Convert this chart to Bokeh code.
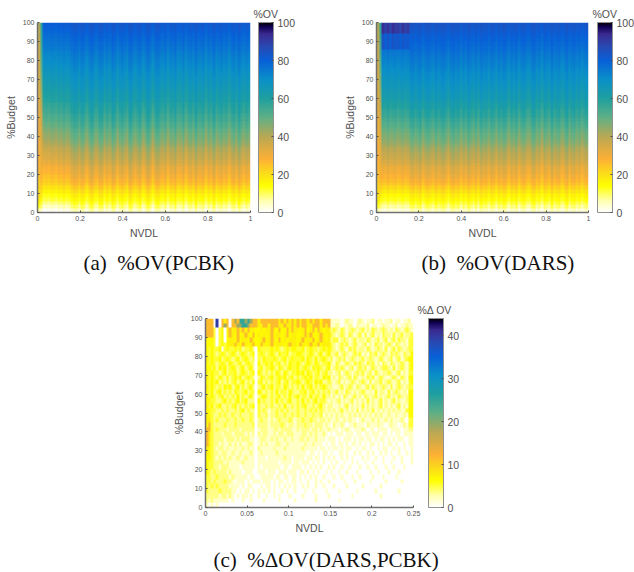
import numpy as np
from bokeh.embed import file_html
from bokeh.resources import INLINE
from bokeh.layouts import column, row
from bokeh.models import ColorBar, FixedTicker, LinearColorMapper, Range1d, Title
from bokeh.plotting import figure

# ---- values ----
cmap_pos = [0, 6, 14, 20, 28, 40, 50, 60, 70, 80, 88, 94, 98, 100]
cmap_hex = ["#ffffff", "#ffffb0", "#ffff00", "#fbdf18", "#fdb035", "#b8a855", "#5fb085",
            "#1fa0a0", "#0a90c8", "#0860d8", "#2a48b0", "#3a2a90", "#100050", "#000000"]

# %OV by budget, every 2 %Budget, bottom to top
profile_a = [4, 8, 11, 14, 16, 19, 22, 25, 27, 29, 31, 32, 34, 36, 38, 39, 41, 43, 45, 47, 48, 50, 52, 53, 55,
             56, 58, 59, 60, 62, 63, 64, 65, 66, 67, 68, 69, 70, 71, 72, 73, 74, 75, 76, 77, 78, 79, 80, 81, 82]
profile_b = [4, 8, 11, 14, 16, 19, 22, 25, 27, 29, 31, 32, 34, 36, 38, 39, 41, 43, 45, 47, 48, 50, 52, 53, 55,
             57, 58, 60, 61, 63, 64, 65, 66, 67, 68, 69, 70, 71, 72, 73, 74, 75, 76, 77, 78, 79, 80, 81, 82, 83]
# deviation of each NVDL column from the budget profile
shift_a = [-6, -5, -4, -3, -4, -2, -3, -4, -2, -3, -1, -3, -2, 1, 3, 2, -1, 3, 1, -2, 2, 4, 0, -1, 3, 3, -2, 1, -1, 4,
           2, -3, 1, 3, 0, -2, 4, 2, -1, 1, 3, -2, 0, 4, 1, -3, 2, 3, 0, -1, 2, -3, 1, 0, 3, -2, -1, 2, -3, 0,
           1, -2, 3, -1, 0, 2, -3, 1, -1, 3, -2, 0, 2, -1, 1, -3, 0, 2, -2, 3, 0, -2, 1, -1]
shift_b = [-4, -2, -1, -2, 0, -2, -1, 0, -2, -1, 0, -2, -1, 2, 3, 0, 2, 4, -1, 2, 3, 1, -1, 3, 0, 2, 4, 1, -2, 2,
           4, 1, 3, -1, 2, 0, 4, 1, -1, 2, -2, 3, 1, 2, -1, 3, 1, -2, 2, 0, 3, 1, -2, 2, 0, 3, -2, 1, 2, -1,
           -2, 1, 3, -1, 1, -3, 2, 0, -2, 3, -1, 1, 2, -2, 0, 3, -2, 1, 2, -1, 1, -2, 0, 1]
# how strongly the column streaks show at each budget, bottom to top
streak_weight = [1.0, 1.0, 0.9, 0.8, 0.8, 0.8, 0.9, 1.0, 1.0, 1.1, 1.1, 1.1, 1.1, 1.1, 1.1, 1.1, 1.1, 1.1, 1.1, 1.1,
                 1.1, 1.1, 1.1, 1.1, 1.0, 1.0, 1.0, 1.0, 0.9, 0.9, 0.9, 0.9, 0.8, 0.8, 0.8, 0.7, 0.7, 0.7, 0.7, 0.6,
                 0.6, 0.6, 0.6, 0.5, 0.5, 0.5, 0.5, 0.5, 0.5, 0.5]
# the two leftmost columns, bottom to top
edge0 = [6, 12, 16, 18, 20, 21, 22, 23, 24, 25, 26, 27, 27, 28, 28, 29, 29, 30, 30, 31, 31, 31, 32, 32, 32,
         33, 33, 33, 34, 34, 34, 35, 35, 35, 36, 36, 36, 37, 37, 37, 38, 38, 38, 39, 39, 39, 40, 40, 41, 42]
edge1 = [4, 9, 12, 15, 18, 21, 23, 25, 27, 28, 29, 30, 31, 32, 32, 33, 33, 34, 34, 35, 35, 36, 36, 37, 37,
         38, 39, 40, 41, 42, 43, 44, 45, 46, 47, 48, 49, 50, 51, 52, 53, 54, 55, 55, 56, 56, 57, 57, 58, 58]
# panel (b): dark top band for NVDL < 0.15, and the weaker band below it
top_band_b = [90, 93, 89, 92, 88, 93, 90, 91, 88, 92, 89, 91]
mid_band_b = [81, 84, 80, 83, 80, 84, 81, 83, 80, 83, 81, 82]

# panel (c): one code per cell, top row first
delta_levels = [0, 2, 3.5, 5, 6.5, 7.5, 11.5, 19, 25, 40]
delta_rows = """
6660906560 6768878766 5666666656 5656565665 6566566611 1101211012 1011201101 1201101120
6660906760 6677887666 5566566655 6556565665 5666565611 2101121021 1120110121 1012011211
6663034056 5565656554 4545565464 4656554564 5646545523 2132123212 3121321232 1213212321
6663034046 5464565464 5454564554 5645544565 6445654532 1232132123 1312312132 2131231223
4443034045 5464554654 4564565464 5455545645 5645654523 3123212312 2132123123 1231322133
4443034345 5654654564 4654564555 4565546545 6456455532 1232312321 2312132212 3213212133
4343340343 3434233420 4333343432 3434433423 4332343432 1232132312 2132123213 1231321233
4343234323 4323432340 3432343243 3423344323 4323423422 3123212323 1213231232 1323213224
5343342343 2342343230 3243334323 4234333424 3242343231 2323123212 3123212321 2312312344
4343234324 3234234320 4234342342 3243343234 3243233421 3212321323 2132312132 1321232134
4434243423 4323423420 3423343243 2343342343 2434323412 3232123123 2312321233 2131232134
4343323423 3423432340 4323232432 4323343424 3234234221 2312321232 3123132122 3212312133
5343243242 3434234320 2432342343 4234232343 4233243412 1321231321 2132312321 1232132144
4343423232 3423423240 3423232342 3423343234 3243422321 2312123212 3213122312 3212312134
5343232434 2342323420 2342342332 4323232423 4232343221 1231232132 1231321232 1312321233
4342342323 2432342330 4323232423 3243223342 3423232312 3121321212 3212131221 3123212144
5343234232 3242323420 2343232342 3242342332 4233242212 1213212312 1321231212 3121321244
4433223423 2342342220 4232232423 2342232423 2342332121 2312123121 2131212312 1231211244
5342342232 3423232340 3223232232 4223232342 2323421221 1212312121 3121212312 1212312144
4433223232 2323423220 3232122323 2322232232 3232321212 1231212131 2121312121 2121211344
5432232322 3223222320 3223122322 3223232232 2322312121 2121121212 1212121211 2112112144
5532322232 2322322320 2322121232 2232122322 3221221211 2112121101 2111212112 1211121033
5632222322 2322222230 2222122223 2122122232 2122212102 1121011211 1021112110 1211012133
6632322212 2221222220 1222112212 2221121222 1221211211 1011210111 2101101111 0111101122
6532221222 1222212120 2122112122 1222111221 2121121010 1110111011 0110111011 0101101111
6532222122 2121222110 1221121211 2112112212 1121110111 0101110101 1011010110 1010110011
6532212112 1212112210 1212111221 1211111121 1211101011 0110101101 0101101010 1101001011
5432122121 1211212110 2111112111 2111111211 1110110101 1010110010 1101001011 0010101001
5432212211 2112111210 1211111211 1111111110 1101011010 0110100101 0010100101 0100100101
4432121212 1121121110 1110111111 2110111101 1011010101 0010101000 1010010010 0010010001
4332222121 1111211110 1111111101 1110110111 0101010010 1001001010 0100100010 0100010001
4332212221 1110111110 1011111110 1101111010 1010100101 0010010001 0010010001 0010001000
4323222212 1111011100 1110111011 1011101101 0101001010 0100100010 0001001000 1000100000
3322322221 2111110110 0111110110 1101101010 1010010001 0010001001 0000100010 0001000000
3323222322 1011101011 1011101011 0101101001 0010100100 0001000100 0001000001 0000010000
3232322221 1110101100 0101101010 1010100101 0010010001 0000100000 1000000100 0000000000
3222232222 1101011010 1010101001 0100100010 0100001000 0100000010 0000010000 0000100000
2222212212 1010110100 1001001010 0010000100 0010000100 0000001000 0000000100 0000000000
2121111110 1000100100 0010000010 0000100000 0010000000 0100000000 0000000000 0000000000
1010100000 0000000000 0000000000 0000000000 0000000000 0000000000 0000000000 0000000000
"""

ab_x_ticks = [0, 0.2, 0.4, 0.6, 0.8, 1]
ab_x_labels = ["0", "0.2", "0.4", "0.6", "0.8", "1"]
c_x_ticks = [0, 0.05, 0.1, 0.15, 0.2, 0.25]
c_x_labels = ["0", "0.05", "0.1", "0.15", "0.2", "0.25"]
y_ticks = list(range(0, 101, 10))
ab_bar_ticks = [0, 20, 40, 60, 80, 100]
c_bar_ticks = [0, 10, 20, 30, 40]
c_bar_max = 44


# ---- cell grids ----
def ramp():
    rgb = np.array([[int(h[i:i + 2], 16) for i in (1, 3, 5)] for h in cmap_hex], float)
    xs = np.linspace(0, 100, 256)
    chans = [np.interp(xs, cmap_pos, rgb[:, k]).round().astype(int) for k in range(3)]
    return ["#%02x%02x%02x" % (chans[0][i], chans[1][i], chans[2][i]) for i in range(256)]


PALETTE = ramp()


def grid(profile, shift):
    m = np.array(profile, float)[:, None] + np.array(streak_weight)[:, None] * np.array(shift, float)[None, :]
    m[:, 0] = edge0
    m[:, 1] = edge1
    return m


grid_a = grid(profile_a, shift_a)
grid_b = grid(profile_b, shift_b)
for r in (47, 48, 49):
    grid_b[r, 1:1 + len(top_band_b)] = top_band_b
for r in (43, 44, 45, 46):
    grid_b[r, 1:1 + len(mid_band_b)] = mid_band_b
grid_b[:, 1] = edge1
grid_c = np.array([[delta_levels[int(ch)] for ch in line.replace(" ", "")]
                   for line in delta_rows.strip().splitlines()], float)[::-1]

TXT = "#505050"


def panel(z, x_max, x_ticks, x_labels, high, bar_ticks, bar_title, caption,
          w, h, left, top, fw, fh, gap, title_off, cap_off, cap_standoff):
    p = figure(width=w, height=h, output_backend="svg", toolbar_location=None, tools="",
               x_range=Range1d(0, x_max), y_range=Range1d(0, 100),
               min_border_left=left, min_border_top=top, min_border_right=w - left - fw,
               min_border_bottom=h - top - fh, outline_line_color=None,
               x_axis_label="NVDL", y_axis_label="%Budget")
    mapper = LinearColorMapper(palette=PALETTE, low=0, high=high)
    p.image(image=[z], x=0, y=0, dw=x_max, dh=100, color_mapper=mapper)
    p.grid.visible = False
    p.xaxis.ticker = FixedTicker(ticks=x_ticks)
    p.xaxis.major_label_overrides = {t: l for t, l in zip(x_ticks, x_labels)}
    p.yaxis.ticker = FixedTicker(ticks=y_ticks)
    for ax in (p.xaxis[0], p.yaxis[0]):
        ax.axis_line_color = "#707070"
        ax.axis_line_width = 1.5
        ax.major_tick_in = 2
        ax.major_tick_out = 0
        ax.major_tick_line_color = "#505050"
        ax.minor_tick_line_color = None
        ax.major_label_text_font = "Liberation Sans"
        ax.major_label_text_font_size = "7px"
        ax.major_label_text_color = TXT
        ax.axis_label_text_font = "Liberation Sans"
        ax.axis_label_text_font_size = "10.5px"
        ax.axis_label_text_font_style = "normal"
        ax.axis_label_text_color = TXT
        ax.axis_label_standoff = 3
        ax.major_label_standoff = 3
    bar = ColorBar(color_mapper=mapper, ticker=FixedTicker(ticks=bar_ticks),
                   width=15, height=fh, location=(fw + gap, 0), padding=0, margin=0,
                   background_fill_color=None, border_line_color=None,
                   bar_line_color="#909090", bar_line_width=1,
                   major_tick_line_color="#505050", major_tick_in=2, major_tick_out=0,
                   minor_tick_line_color=None, label_standoff=4,
                   major_label_text_font="Liberation Sans", major_label_text_font_size="10.5px",
                   major_label_text_color=TXT)
    p.add_layout(bar, "center")
    p.add_layout(Title(text=bar_title, align="left", offset=title_off, text_font="Liberation Sans",
                       text_font_size="10.5px", text_font_style="normal", text_color=TXT, standoff=5),
                 "above")
    if caption:
        p.add_layout(Title(text=caption, align="left", offset=cap_off, text_font="Liberation Serif",
                           text_font_size="21px", text_font_style="normal", text_color="#111111",
                           standoff=cap_standoff), "below")
    return p


pa = panel(grid_a, 1, ab_x_ticks, ab_x_labels, 100, ab_bar_ticks, "%OV", "(a)\u00a0\u00a0%OV(PCBK)",
           320, 281, 37, 22, 213, 190, 8, 216, 46, 14)
pb = panel(grid_b, 1, ab_x_ticks, ab_x_labels, 100, ab_bar_ticks, "%OV", "(b)\u00a0\u00a0%OV(DARS)",
           314, 281, 56, 22, 212, 190, 9, 216, 45, 14)
pc = panel(grid_c, 0.25, c_x_ticks, c_x_labels, c_bar_max, c_bar_ticks, "%\u0394 OV", None,
           634, 264, 205, 37, 208, 189, 15, 212, 0, 0)

strip = figure(width=634, height=27, output_backend="svg", toolbar_location=None, tools="",
               x_axis_type=None, y_axis_type=None, outline_line_color=None,
               min_border_left=0, min_border_right=0, min_border_top=0, min_border_bottom=0,
               x_range=Range1d(0, 1), y_range=Range1d(0, 1))
strip.grid.visible = False
strip.add_layout(Title(text="(c)\u00a0\u00a0%\u0394OV(DARS,PCBK)", align="left", offset=8,
                       text_font="Liberation Serif", text_font_size="21px", text_font_style="normal",
                       text_color="#111111", standoff=0), "above")

page = column(row(pa, pb, spacing=0), pc, strip, spacing=0)
open("out.html", "w").write(file_html(page, INLINE))
